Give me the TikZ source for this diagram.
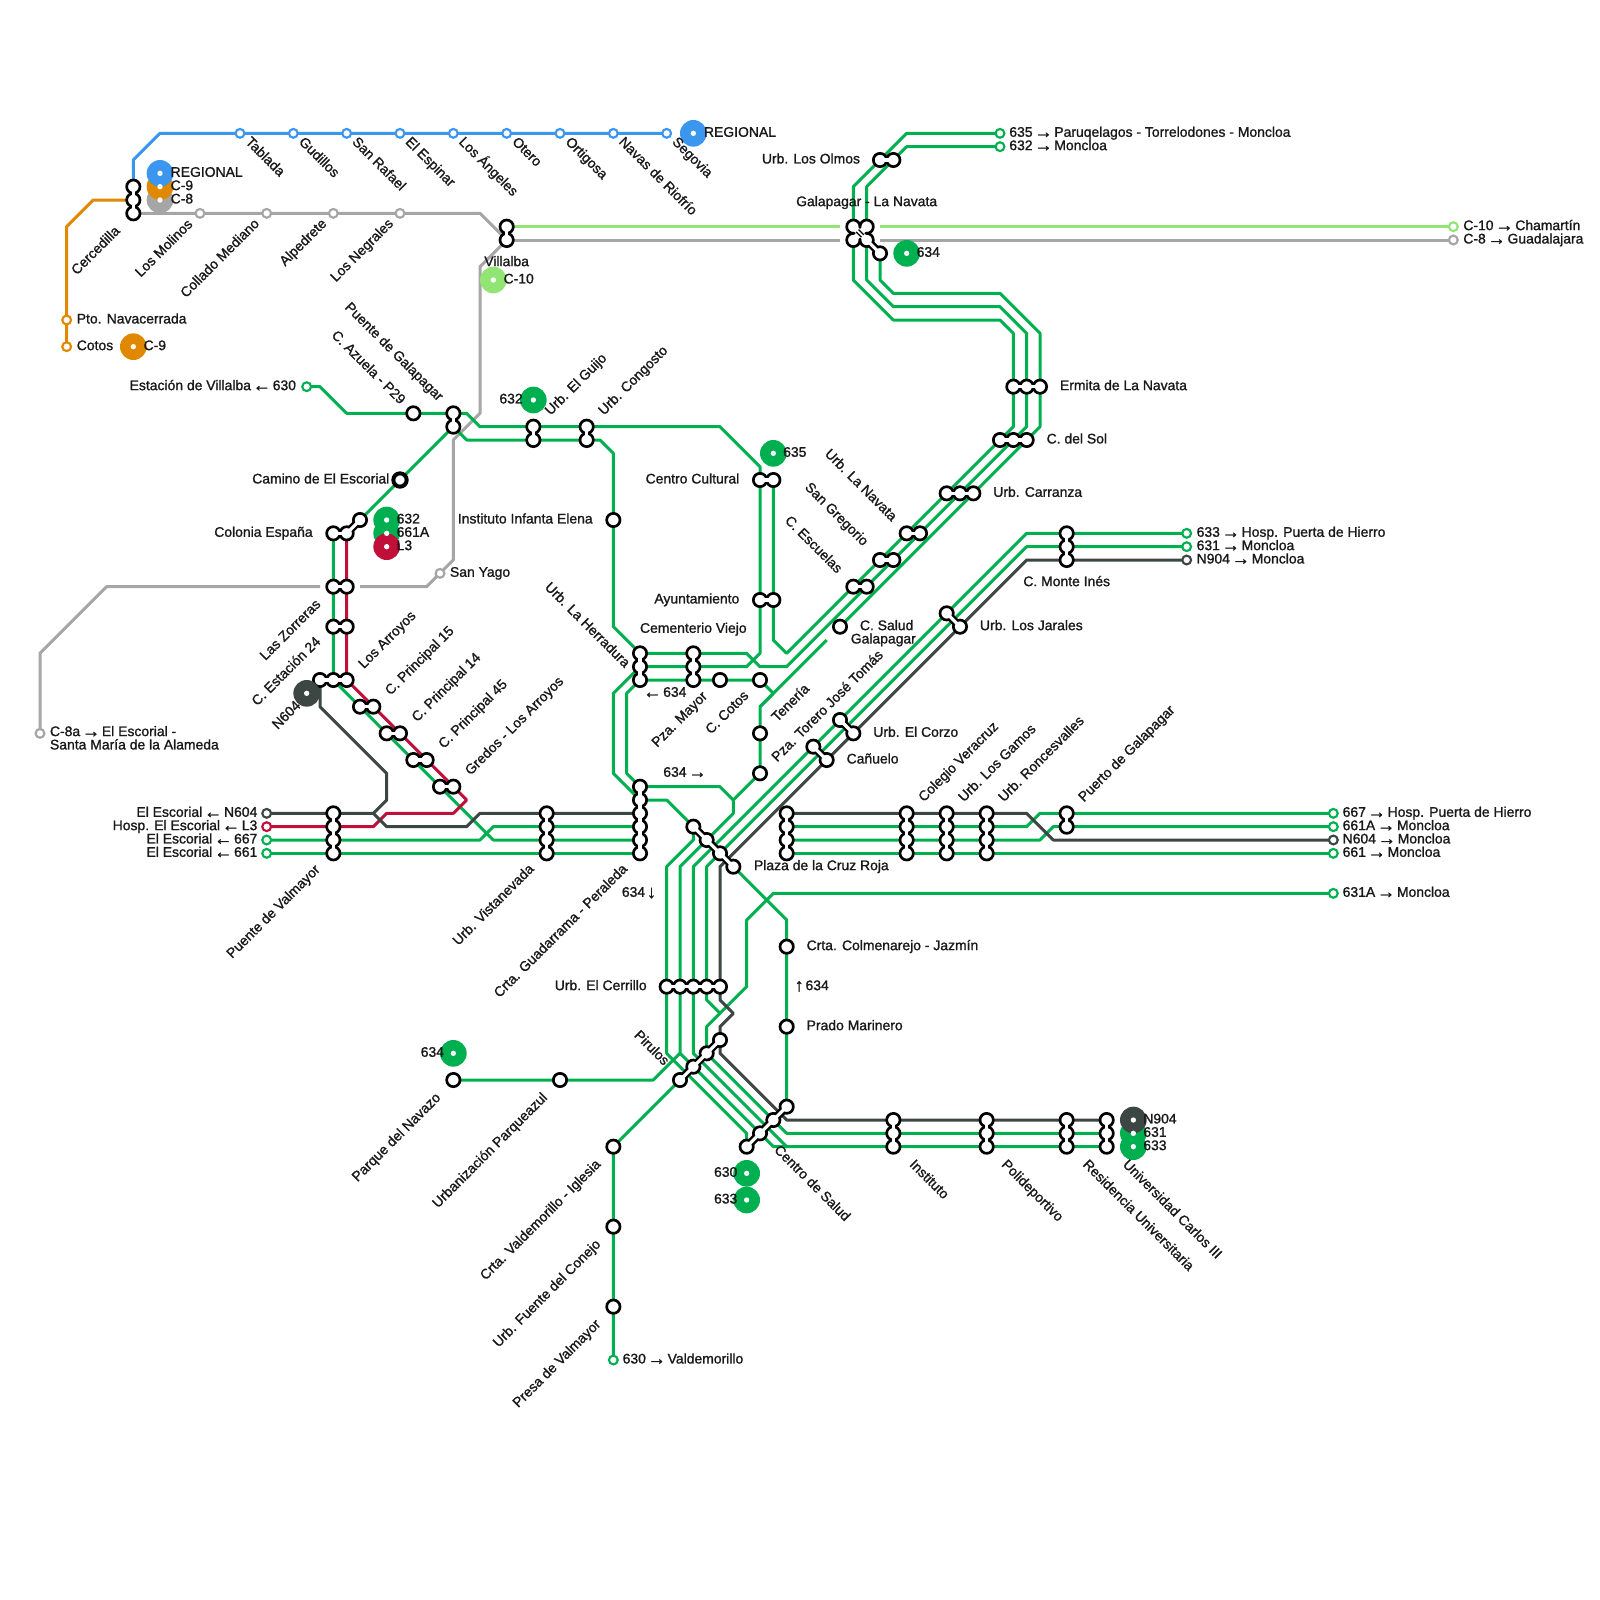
\documentclass[tikz,border=0pt]{standalone}
\usepackage{fontspec}
\setmainfont[FakeBold=1.2]{Liberation Sans}
\definecolor{grn}{HTML}{00B050}
\definecolor{lgr}{HTML}{92E474}
\definecolor{gry}{HTML}{A6A6A6}
\definecolor{blu}{HTML}{3A96EE}
\definecolor{org}{HTML}{E08800}
\definecolor{rdd}{HTML}{C0103A}
\definecolor{drk}{HTML}{3C4642}
\newcounter{lbc}
\newcommand{\tlab}[4][]{\stepcounter{lbc}\node[lbl,#1] (lab\thelbc) at (#2,#3) {#4};}
\newcommand{\bdg}[4]{\node[badgenode,fill=#4] (#1) at (#2,#3) {};}
\newcommand{\arr}[1]{\hspace{-1.5pt}{\fontsize{13.5}{10}\selectfont\raisebox{-0.8pt}{#1}}\hspace{-1.5pt}}
\tikzset{
  route/.style={line width=2.25pt,line join=round},
  lab/.style={inner sep=0pt,outer sep=0pt,text=black!90,font=\fontsize{10.45}{10}\selectfont},
  lbl/.style={lab,text height=7.4pt,text depth=2.2pt},
  W/.style={anchor=west},
  E/.style={anchor=east},
  R/.style={anchor=west,rotate=-45,xshift=-.6pt,yshift=.6pt},
  U/.style={anchor=east,rotate=45,xshift=-2pt,yshift=-.8pt},
  V/.style={anchor=west,rotate=45,xshift=.78pt,yshift=-.78pt},
  ringst/.style={circle,draw=black,fill=white,line width=2pt,inner sep=0pt,minimum size=10pt},
  smallst/.style={circle,fill=white,line width=1.6pt,inner sep=0pt,minimum size=6.6pt},
  badgenode/.style={circle,draw=none,inner sep=0pt,minimum size=20pt},
  neckb/.style={black,line width=6pt,line cap=round},
  neckw/.style={white,line width=2.4pt,line cap=round}
}
\begin{document}
\begin{tikzpicture}[x=10pt,y=-10pt]
\useasboundingbox[fill=white] (0,0) rectangle (120,120);
% coordinates
\foreach \n/\x/\y in {Tab/18/10,Gud/22/10,SRa/26/10,EEs/30/10,LAn/34/10,Ote/38/10,Ort/42/10,NRi/46/10,Seg/50/10,
 Cer1/10/14,Cer2/10/15,Cer3/10/16,Pto/5/24,Cot/5/26,LMo/15/16,CMe/20/16,Alp/25/16,LNe/30/16,Vil1/38/17,Vil2/38/18,
 GN1/64/17,GN2/65/17,GN3/64/18,GN4/65/18,GN5/66/19,GNp/64.3/17.3,GNq/64.7/17.7,EndA/109/17,EndB/109/18,SanY/33/43,Ca/3/55,
 LZa/25/44,LZb/26/44,LAa/25/47,LAb/26/47,CEz/24/51,CEa/25/51,CEb/26/51,
 PAa/27/53,PAb/28/53,PBa/29/55,PBb/30/55,PCa/31/57,PCb/32/57,GrA/33/59,GrB/34/59,
 Cola/25/40,Colb/26/40,Colc/27/39,Cam/30/36,Azu/31/31,PGa/34/31,PGb/34/32,Vill/23/29,
 Guia/40/32,Guib/40/33,Cona/44/32,Conb/44/33,Inst/46/39,Cula/57/36,Culb/58/36,Ayua/57/45,Ayub/58/45,
 Hera/48/49,Herb/48/50,Herc/48/51,Cema/52/49,Cemb/52/50,Cemc/52/51,Ccot/54/51,Ten/57/51,Sta/57/55,Stb/57/58,
 Guaa/48/59,Guab/48/60,Guac/48/61,Guad/48/62,Guae/48/63,Guaf/48/64,
 Vala/25/61,Valb/25/62,Valc/25/63,Vald/25/64,Visa/41/61,Visb/41/62,Visc/41/63,Visd/41/64,
 Lea/20/61,Leb/20/62,Lec/20/63,Led/20/64,
 Pza/52/62,Pzb/53/63,Pzc/54/64,Pzd/55/65,Cra/50/74,Crb/51/74,Crc/52/74,Crd/53/74,Cre/54/74,
 Pia/51/81,Pib/52/80,Pic/53/79,Pid/54/78,CSa/56/86,CSb/57/85,CSc/58/84,CSd/59/83,
 Jaz/59/71,Pra/59/77,Navz/34/81,Paq/42/81,Igl/46/86,Fue/46/92,Pre/46/98,Vlm/46/102,
 Isa/67/84,Isb/67/85,Isc/67/86,Poa/74/84,Pob/74/85,Poc/74/86,Rea/80/84,Reb/80/85,Rec/80/86,Uca/83/84,Ucb/83/85,Ucc/83/86,
 Ta/100/67,Tb/100/61,Tc/100/62,Td/100/63,Te/100/64,
 Pla/59/61,Plb/59/62,Plc/59/63,Pld/59/64,Cva/68/61,Cvb/68/62,Cvc/68/63,Cvd/68/64,
 Lga/71/61,Lgb/71/62,Lgc/71/63,Lgd/71/64,Roa/74/61,Rob/74/62,Roc/74/63,Rod/74/64,Pua/80/61,Pub/80/62,
 Cora/63/54,Corb/64/55,Cana/61/56,Canb/62/57,Jara/71/46,Jarb/72/47,MIa/80/40,MIb/80/41,MIc/80/42,Tf/89/40,Tg/89/41,Th/89/42,
 Sal/63/47,Esa/64/44,Esb/65/44,Gra/66/42,Grb/67/42,Nva/68/40,Nvb/69/40,Caa/71/37,Cab/72/37,Cac/73/37,
 Soa/75/33,Sob/76/33,Soc/77/33,Era/76/29,Erb/77/29,Erc/78/29,Ola/66/12,Olb/67/12,Ti/75/10,Tj/75/11,
 GapAw/63/17,GapAe/66/17,GapBw/63/18,GapBe/66/18,GapCw/24/44,GapCe/27/44,GapD/62/48}
 {\coordinate (\n) at (\x,\y);}
% lines
\draw[route,lgr] (Vil1) -- (GapAw) (GapAe) -- (EndA);
\draw[route,gry] (Vil2) -- (GapBw) (GapBe) -- (EndB);
\draw[route,gry] (Cer3) -- (LNe) -- (36,16) -- (Vil2) -- (36,20) -- (36,31) -- (34,33) -- (34,42) -- (SanY) -- (32,44) -- (GapCe);
\draw[route,gry] (GapCw) -- (8,44) -- (3,49) -- (Ca);
\draw[route,blu] (Cer1) -- (10,12) -- (12,10) -- (Seg);
\draw[route,org] (Cer2) -- (7,15) -- (5,17) -- (Cot);
% green
\draw[route,grn] (Vill) -- (24,29) -- (26,31) -- (Azu) -- (PGa) -- (35,31) -- (36,32) -- (54,32) -- (57,35) -- (Cula) -- (Ayua) -- (57,49) -- (56,50) -- (Cemb) -- (Herb);
\draw[route,grn] (PGb) -- (35,33) -- (45,33) -- (46,34) -- (46,47) -- (Hera) -- (Cema) -- (56,49) -- (57,50) -- (59,50) -- (Esb) -- (Sob) -- (77,32) -- (77,25) -- (75,23) -- (67,23) -- (65,21) -- (65,14) -- (68,11) -- (Tj);
\draw[route,grn] (Culb) -- (Ayub) -- (58,48) -- (59,49) -- (Esa) -- (Soa) -- (76,32) -- (76,25) -- (75,24) -- (67,24) -- (64,21) -- (64,14) -- (68,10) -- (Ti);
\draw[route,grn] (GN5) -- (66,21) -- (67,22) -- (75,22) -- (78,25) -- (78,32) -- (Soc) -- (Sal);
\draw[route,grn] (GapD) -- (57,53) -- (Stb) -- (55,60) -- (55,61) -- (51,65) -- (51,79) -- (58,86) -- (59,86);
\draw[route,grn] (Guaa) -- (54,59) -- (55,60);
\draw[route,grn] (Herc) -- (Ten) -- (58,52) -- (57,53);
\draw[route,grn] (PGb) -- (Colc);
\draw[route,grn] (Cola) -- (CEa) -- (37,63) -- (Guae);
\draw[route,grn] (Lec) -- (36,63) -- (37,62) -- (Guad);
\draw[route,grn] (Led) -- (Guaf);
\draw[route,grn] (Guab) -- (50,60) -- (Pza) -- (52,63) -- (50,65) -- (50,79) -- (56,85) -- (CSa);
\draw[route,grn] (Herb) -- (46,52) -- (46,58) -- (Guab);
\draw[route,grn] (Herc) -- (47,52) -- (47,58) -- (Guaa);
\draw[route,grn] (Ucc) -- (59,86) -- (52,79) -- (52,65) -- (77,40) -- (Tf);
\draw[route,grn] (Tg) -- (77,41) -- (53,65) -- (53,75) -- (54,76);
\draw[route,grn] (Ta) -- (58,67) -- (56,69) -- (56,74) -- (53,77) -- (Pic) -- (59,85) -- (Ucb);
\draw[route,grn] (Pzd) -- (59,69) -- (CSd);
\draw[route,grn] (Plb) -- (77,62) -- (78,61) -- (Tb);
\draw[route,grn] (Plc) -- (78,63) -- (79,62) -- (Tc);
\draw[route,grn] (Pld) -- (Te);
\draw[route,grn] (Navz) -- (Paq) -- (49,81) -- (51,79);
\draw[route,grn] (Pia) -- (Igl) -- (Vlm);
% red
\draw[route,rdd] (Colb) -- (CEb) -- (35,60) -- (34,61) -- (29,61) -- (28,62) -- (Leb);
% dark
\draw[route,drk] (CEz) -- (24,53) -- (29,58) -- (29,60) -- (28,61);
\draw[route,drk] (Lea) -- (28,61) -- (29,62) -- (35,62) -- (36,61) -- (Guac);
\draw[route,drk] (Th) -- (77,42) -- (54,65) -- (54,75) -- (55,76) -- (54,77) -- (54,79) -- (59,84) -- (Uca);
\draw[route,drk] (Pla) -- (77,61) -- (79,63) -- (Td);
% small stops
\foreach \n in {Tab,Gud,SRa,EEs,LAn,Ote,Ort,NRi,Seg} \node[smallst,draw=blu] (st\n) at (\n) {};
\foreach \n in {Pto,Cot} \node[smallst,draw=org] (st\n) at (\n) {};
\foreach \n in {LMo,CMe,Alp,LNe,SanY,Ca,EndB} \node[smallst,draw=gry] (st\n) at (\n) {};
\node[smallst,draw=lgr] (stEndA) at (EndA) {};
\foreach \n in {Vill,Ti,Tj,Tf,Tg,Ta,Tb,Tc,Te,Lec,Led,Vlm} \node[smallst,draw=grn] (st\n) at (\n) {};
\foreach \n in {Lea,Td,Th} \node[smallst,draw=drk] (st\n) at (\n) {};
\node[smallst,draw=rdd] (stLeb) at (Leb) {};
% interchange necks (black)
\foreach \a/\b in {Cer1/Cer2,Cer2/Cer3,Vil1/Vil2,Ola/Olb,Era/Erb,Erb/Erc,Soa/Sob,Sob/Soc,Caa/Cab,Cab/Cac,Nva/Nvb,Gra/Grb,Esa/Esb,
 Cula/Culb,Ayua/Ayub,Hera/Herb,Herb/Herc,Cema/Cemb,Cemb/Cemc,Guaa/Guab,Guab/Guac,Guac/Guad,Guad/Guae,Guae/Guaf,
 Vala/Valb,Valb/Valc,Valc/Vald,Visa/Visb,Visb/Visc,Visc/Visd,PGa/PGb,Guia/Guib,Cona/Conb,Cola/Colb,Colb/Colc,
 LZa/LZb,LAa/LAb,CEz/CEa,CEa/CEb,PAa/PAb,PBa/PBb,PCa/PCb,GrA/GrB,Pza/Pzb,Pzb/Pzc,Pzc/Pzd,Cra/Crb,Crb/Crc,Crc/Crd,Crd/Cre,
 Pia/Pib,Pib/Pic,Pic/Pid,CSa/CSb,CSb/CSc,CSc/CSd,Isa/Isb,Isb/Isc,Poa/Pob,Pob/Poc,Rea/Reb,Reb/Rec,Uca/Ucb,Ucb/Ucc,
 Pla/Plb,Plb/Plc,Plc/Pld,Cva/Cvb,Cvb/Cvc,Cvc/Cvd,Lga/Lgb,Lgb/Lgc,Lgc/Lgd,Roa/Rob,Rob/Roc,Roc/Rod,Pua/Pub,
 Cora/Corb,Cana/Canb,Jara/Jarb,MIa/MIb,MIb/MIc}
 {\draw[neckb] (\a) -- (\b);}
% ring stations
\foreach \n in {Cer1,Cer2,Cer3,Vil1,Vil2,Ola,Olb,Era,Erb,Erc,Soa,Sob,Soc,Caa,Cab,Cac,Nva,Nvb,Gra,Grb,Esa,Esb,Sal,
 Cula,Culb,Ayua,Ayub,Hera,Herb,Herc,Cema,Cemb,Cemc,Ccot,Ten,Sta,Stb,Guaa,Guab,Guac,Guad,Guae,Guaf,
 Vala,Valb,Valc,Vald,Visa,Visb,Visc,Visd,PGa,PGb,Azu,Guia,Guib,Cona,Conb,Inst,Cola,Colb,Colc,
 LZa,LZb,LAa,LAb,CEz,CEa,CEb,PAa,PAb,PBa,PBb,PCa,PCb,GrA,GrB,Pza,Pzb,Pzc,Pzd,Cra,Crb,Crc,Crd,Cre,
 Pia,Pib,Pic,Pid,CSa,CSb,CSc,CSd,Jaz,Pra,Navz,Paq,Igl,Fue,Pre,Isa,Isb,Isc,Poa,Pob,Poc,Rea,Reb,Rec,Uca,Ucb,Ucc,
 Pla,Plb,Plc,Pld,Cva,Cvb,Cvc,Cvd,Lga,Lgb,Lgc,Lgd,Roa,Rob,Roc,Rod,Pua,Pub,
 Cora,Corb,Cana,Canb,Jara,Jarb,MIa,MIb,MIc}
 {\node[ringst] (st\n) at (\n) {};}
\node[ringst,line width=3pt] (stCam) at (Cam) {};
% interchange necks (white)
\foreach \a/\b in {Cer1/Cer2,Cer2/Cer3,Vil1/Vil2,Ola/Olb,Era/Erb,Erb/Erc,Soa/Sob,Sob/Soc,Caa/Cab,Cab/Cac,Nva/Nvb,Gra/Grb,Esa/Esb,
 Cula/Culb,Ayua/Ayub,Hera/Herb,Herb/Herc,Cema/Cemb,Cemb/Cemc,Guaa/Guab,Guab/Guac,Guac/Guad,Guad/Guae,Guae/Guaf,
 Vala/Valb,Valb/Valc,Valc/Vald,Visa/Visb,Visb/Visc,Visc/Visd,PGa/PGb,Guia/Guib,Cona/Conb,Cola/Colb,Colb/Colc,
 LZa/LZb,LAa/LAb,CEz/CEa,CEa/CEb,PAa/PAb,PBa/PBb,PCa/PCb,GrA/GrB,Pza/Pzb,Pzb/Pzc,Pzc/Pzd,Cra/Crb,Crb/Crc,Crc/Crd,Crd/Cre,
 Pia/Pib,Pib/Pic,Pic/Pid,CSa/CSb,CSb/CSc,CSc/CSd,Isa/Isb,Isb/Isc,Poa/Pob,Pob/Poc,Rea/Reb,Reb/Rec,Uca/Ucb,Ucb/Ucc,
 Pla/Plb,Plb/Plc,Plc/Pld,Cva/Cvb,Cvb/Cvc,Cvc/Cvd,Lga/Lgb,Lgb/Lgc,Lgc/Lgd,Roa/Rob,Rob/Roc,Roc/Rod,Pua/Pub,
 Cora/Corb,Cana/Canb,Jara/Jarb,MIa/MIb,MIb/MIc}
 {\draw[neckw] (\a) -- (\b);}
% Galapagar - La Navata
\draw[neckb] (GN1) -- (GN4) -- (GN5) (GN2) -- (GN3);
\foreach \n in {GN1,GN2,GN3,GN4,GN5} \node[ringst] (st\n) at (\n) {};
\draw[white,line width=4.4pt,line cap=round] (GN2) -- (GN3);
\draw[neckw] (GN4) -- (GN5);
\draw[white,line width=4.4pt,line cap=round] (GN1) -- (GN4);
\draw[black,line width=3.4pt] (GNp) -- (GNq);
\draw[white,line width=1.4pt,line cap=round] (GN1) -- (GN4);
% badges
\bdg{bGr}{12}{15}{gry}\bdg{bOr}{12}{14}{org}\bdg{bBl}{12}{13}{blu}
\bdg{bRg}{52}{10}{blu}\bdg{bCn}{10}{26}{org}\bdg{bCt}{37}{21}{lgr}\bdg{bGu}{40}{30}{grn}\bdg{bCu}{58}{34}{grn}\bdg{bGN}{68}{19}{grn}
\bdg{bA}{29}{40}{grn}\bdg{bB}{29}{39}{grn}\bdg{bLt}{29}{41}{rdd}
\bdg{bNv}{23}{52}{drk}\bdg{bNa}{34}{79}{grn}\bdg{bD}{56}{90}{grn}\bdg{bC}{56}{88}{grn}
\bdg{bUc}{85}{86}{grn}\bdg{bUb}{85}{85}{grn}\bdg{bUa}{85}{84}{drk}
\foreach \n in {bGr,bOr,bBl,bRg,bCn,bCt,bGu,bCu,bGN,bA,bB,bLt,bNv,bNa,bD,bC,bUc,bUb,bUa}
 {\fill[white] (\n.center) circle (2pt);}
% labels
\foreach \x/\t in {18/Tablada,22/Gudillos,26/San Rafael,30/El Espinar,34/Los Ángeles,38/Otero,42/Ortigosa,46/Navas de Riofrío,50/Segovia}
 {\tlab[R]{\x+0.55}{10.6}{\t}}
\tlab[W]{52.8}{10}{REGIONAL}
\tlab[W]{12.8}{13}{REGIONAL}\tlab[W]{12.8}{14}{C-9}\tlab[W]{12.8}{15}{C-8}
\tlab[U]{8.95}{17}{Cercedilla}
\tlab[U]{14.4}{16.5}{Los Molinos}\tlab[U]{19.4}{16.45}{Collado Mediano}\tlab[U]{24.45}{16.45}{Alpedrete}\tlab[U]{29.45}{16.45}{Los Negrales}
\tlab[W]{5.76}{24}{Pto. Navacerrada}\tlab[W]{5.76}{26}{Cotos}\tlab[W]{10.77}{26}{C-9}
\tlab[anchor=center]{38}{19.7}{Villalba}\tlab[W]{37.77}{21}{C-10}
\tlab[E]{22.2}{29}{Estación de Villalba \arr{←} 630}
\tlab[R]{25}{25.1}{C. Azuela - P29}\tlab[R]{26}{23}{Puente de Galapagar}
\tlab[E]{39.2}{30}{632}\tlab[V]{41}{31}{Urb. El Guijo}\tlab[V]{45}{31}{Urb. Congosto}
\tlab[E]{29.2}{36}{Camino de El Escorial}\tlab[E]{23.45}{40}{Colonia España}
\tlab[W]{29.75}{39}{632}\tlab[W]{29.75}{40}{661A}\tlab[W]{29.75}{41}{L3}
\tlab[E]{44.45}{39}{Instituto Infanta Elena}\tlab[W]{33.75}{43}{San Yago}
\tlab[U]{24}{45}{Las Zorreras}\tlab[U]{24}{47.8}{C. Estación 24}\tlab[U]{22.5}{52.6}{N604}
\tlab[V]{27}{50}{Los Arroyos}\tlab[V]{29}{52}{C. Principal 15}\tlab[V]{31}{54}{C. Principal 14}\tlab[V]{33}{56}{C. Principal 45}\tlab[V]{35}{58}{Gredos - Los Arroyos}
\node[lab,align=left,anchor=north west] (labCa) at (3.75,54.45) {C-8a \arr{→} El Escorial -\\Santa María de la Alameda};
\tlab[E]{19.3}{61}{El Escorial \arr{←} N604}\tlab[E]{19.3}{62}{Hosp. El Escorial \arr{←} L3}\tlab[E]{19.3}{63}{El Escorial \arr{←} 667}\tlab[E]{19.3}{64}{El Escorial \arr{←} 661}
\tlab[U]{23.95}{64.9}{Puente de Valmayor}\tlab[U]{40}{64.85}{Urb. Vistanevada}\tlab[U]{47}{64.85}{Crta. Guadarrama - Peraleda}
\tlab[R]{41}{44}{Urb. La Herradura}
\tlab[E]{64.5}{12}{Urb. Los Olmos}\tlab[anchor=center]{65}{15.2}{Galapagar - La Navata}\tlab[W]{68.75}{19}{634}
\tlab[W]{75.7}{10}{635 \arr{→} Paruqelagos - Torrelodones - Moncloa}\tlab[W]{75.7}{11}{632 \arr{→} Moncloa}
\tlab[W]{109.75}{17}{C-10 \arr{→} Chamartín}\tlab[W]{109.75}{18}{C-8 \arr{→} Guadalajara}
\tlab[W]{79.5}{29}{Ermita de La Navata}\tlab[W]{78.5}{33}{C. del Sol}\tlab[W]{74.5}{37}{Urb. Carranza}
\tlab[R]{62}{34}{Urb. La Navata}\tlab[R]{60.5}{36.5}{San Gregorio}\tlab[R]{59}{39}{C. Escuelas}
\tlab[W]{58.74}{34}{635}\tlab[E]{55.45}{36}{Centro Cultural}\tlab[E]{55.45}{45}{Ayuntamiento}
\tlab[anchor=center]{52}{47.2}{Cementerio Viejo}
\tlab[anchor=center]{66.5}{47}{C. Salud}\tlab[anchor=center]{66.25}{48}{Galapagar}
\tlab[W]{48.4}{52}{\arr{←} 634}\tlab[W]{49.75}{58}{634 \arr{→}}
\tlab[U]{53}{51.9}{Pza. Mayor}\tlab[U]{56.1}{51.85}{C. Cotos}\tlab[V]{58}{54}{Tenería}\tlab[V]{58}{57}{Pza. Torero José Tomás}
\tlab[W]{65.5}{55}{Urb. El Corzo}\tlab[W]{63.5}{57}{Cañuelo}\tlab[W]{73.5}{47}{Urb. Los Jarales}\tlab[W]{76.75}{43.7}{C. Monte Inés}
\tlab[W]{89.75}{40}{633 \arr{→} Hosp. Puerta de Hierro}\tlab[W]{89.75}{41}{631 \arr{→} Moncloa}\tlab[W]{89.75}{42}{N904 \arr{→} Moncloa}
\tlab[V]{69}{60}{Colegio Veracruz}\tlab[V]{72}{60}{Urb. Los Gamos}\tlab[V]{75}{60}{Urb. Roncesvalles}\tlab[V]{81}{60}{Puerto de Galapagar}
\tlab[W]{100.7}{61}{667 \arr{→} Hosp. Puerta de Hierro}\tlab[W]{100.7}{62}{661A \arr{→} Moncloa}\tlab[W]{100.7}{63}{N604 \arr{→} Moncloa}\tlab[W]{100.7}{64}{661 \arr{→} Moncloa}\tlab[W]{100.7}{67}{631A \arr{→} Moncloa}
\tlab[W]{56.55}{65}{Plaza de la Cruz Roja}\tlab[E]{49.2}{67}{634 \arr{↓}}
\tlab[W]{60.5}{71}{Crta. Colmenarejo - Jazmín}\tlab[W]{59.75}{74}{\arr{↑} 634}\tlab[W]{60.5}{77}{Prado Marinero}\tlab[E]{48.5}{74}{Urb. El Cerrillo}
\tlab[R]{47.7}{77.6}{Pirulos}\tlab[E]{33.3}{79}{634}
\tlab[U]{33}{82}{Parque del Navazo}\tlab[U]{41}{82}{Urbanización Parqueazul}
\tlab[U]{45}{87}{Crta. Valdemorillo - Iglesia}\tlab[U]{45}{93}{Urb. Fuente del Conejo}\tlab[U]{45}{99}{Presa de Valmayor}
\tlab[W]{46.7}{102}{630 \arr{→} Valdemorillo}
\tlab[E]{55.3}{88}{630}\tlab[E]{55.3}{90}{633}
\tlab[R]{58.2}{86.2}{Centro de Salud}\tlab[R]{68.35}{87.3}{Instituto}\tlab[R]{75.25}{87.3}{Polideportivo}\tlab[R]{81.35}{87.3}{Residencia Universitaria}\tlab[R]{84.35}{87.3}{Universidad Carlos III}
\tlab[W]{85.75}{84}{N904}\tlab[W]{85.75}{85}{631}\tlab[W]{85.75}{86}{633}
\end{tikzpicture}
\end{document}
